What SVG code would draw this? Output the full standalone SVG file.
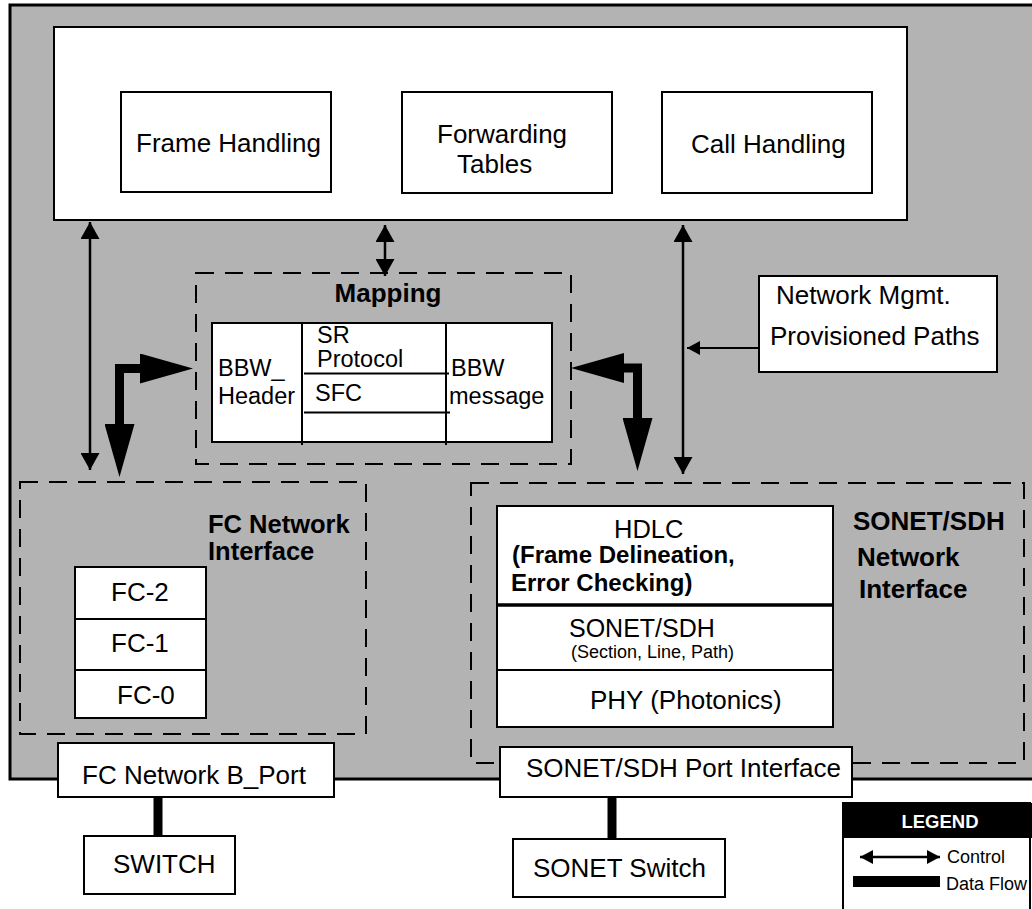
<svg xmlns="http://www.w3.org/2000/svg" width="1032" height="909" viewBox="0 0 1032 909">
<style>
  text { font-family: "Liberation Sans", Arial, sans-serif; fill: #000; }
  .lbl { font-size: 26px; }
  .bold { font-weight: bold; }
  .tbl { font-size: 23.5px; }
  .box { fill: #fff; stroke: #000; stroke-width: 2; }
  .dash { fill: none; stroke: #000; stroke-width: 2; stroke-dasharray: 18 11; }
  .ctrl { fill: none; stroke: #000; stroke-width: 2.5; }
  .flow { fill: none; stroke: #000; stroke-width: 9; stroke-linejoin: miter; }
  .div { stroke: #000; stroke-width: 2; }
</style>
<defs>
  <marker id="ah" viewBox="0 0 17 19" refX="17" refY="9.5" markerWidth="17" markerHeight="19" markerUnits="userSpaceOnUse" orient="auto-start-reverse">
    <path d="M0,0 L17,9.5 L0,19 z" fill="#000"/>
  </marker>
  <marker id="ahs" viewBox="0 0 13 14" refX="13" refY="7" markerWidth="13" markerHeight="14" markerUnits="userSpaceOnUse" orient="auto-start-reverse">
    <path d="M0,0 L13,7 L0,14 z" fill="#000"/>
  </marker>
  <marker id="big" viewBox="0 0 53 30" refX="0" refY="15" markerWidth="53" markerHeight="30" markerUnits="userSpaceOnUse" orient="auto-start-reverse">
    <path d="M0,0 L53,15 L0,30 z" fill="#000"/>
  </marker>
</defs>

<rect id="system" x="10" y="5" width="1040" height="774" fill="#b3b3b3" stroke="#000" stroke-width="3"/>

<g id="control-plane">
  <rect class="box" x="54" y="27" width="853" height="193"/>
</g>
<g id="frame-handling">
  <rect class="box" x="121" y="92" width="210" height="100"/>
  <text class="lbl" x="136" y="152">Frame Handling</text>
</g>
<g id="forwarding-tables">
  <rect class="box" x="402" y="92" width="210" height="101"/>
  <text class="lbl" x="437" y="143">Forwarding</text>
  <text class="lbl" x="457" y="173">Tables</text>
</g>
<g id="call-handling">
  <rect class="box" x="662" y="92" width="210" height="101"/>
  <text class="lbl" x="691" y="153">Call Handling</text>
</g>

<g id="mapping">
  <rect class="dash" x="196" y="273" width="375" height="191"/>
  <text class="lbl bold" x="388" y="302" text-anchor="middle">Mapping</text>
  <rect class="box" x="212" y="323" width="340" height="119"/>
  <line class="div" x1="302" y1="323" x2="302" y2="445"/>
  <line class="div" x1="446" y1="323" x2="446" y2="445"/>
  <line class="div" x1="304" y1="373.5" x2="449" y2="373.5"/>
  <line class="div" x1="304" y1="412.5" x2="450" y2="412.5"/>
  <text class="tbl" x="218" y="376">BBW_</text>
  <text class="tbl" x="218" y="404">Header</text>
  <text class="tbl" x="317" y="343">SR</text>
  <text class="tbl" x="317" y="367">Protocol</text>
  <text class="tbl" x="315" y="401">SFC</text>
  <text class="tbl" x="451" y="376">BBW</text>
  <text class="tbl" x="449" y="404">message</text>
</g>

<g id="network-mgmt">
  <rect class="box" x="759" y="276" width="238" height="96"/>
  <text class="lbl" x="776" y="304">Network Mgmt.</text>
  <text class="lbl" x="770" y="345">Provisioned Paths</text>
</g>

<g id="fc-network-interface">
  <rect class="dash" x="20" y="482" width="346" height="252"/>
  <text class="bold" font-size="25.5" x="208" y="533">FC Network</text>
  <text class="bold" font-size="25.5" x="208" y="560">Interface</text>
  <rect class="box" x="75" y="567" width="131" height="151"/>
  <line class="div" x1="75" y1="619" x2="206" y2="619"/>
  <line class="div" x1="75" y1="670" x2="206" y2="670"/>
  <text class="lbl" x="111" y="601">FC-2</text>
  <text class="lbl" x="111" y="652">FC-1</text>
  <text class="lbl" x="117" y="704">FC-0</text>
</g>

<g id="sonet-network-interface">
  <rect class="dash" x="471" y="483" width="553" height="280"/>
  <text class="lbl bold" x="853" y="530">SONET/SDH</text>
  <text class="lbl bold" x="857" y="566">Network</text>
  <text class="lbl bold" x="859" y="598">Interface</text>
  <rect class="box" x="497" y="506" width="336" height="221"/>
  <line stroke="#000" stroke-width="3.5" x1="497" y1="605" x2="833" y2="605"/>
  <line class="div" x1="497" y1="670" x2="833" y2="670"/>
  <text font-size="25.5" x="614" y="538">HDLC</text>
  <text class="bold" font-size="24" x="512" y="563">(Frame Delineation,</text>
  <text class="bold" font-size="24" x="511" y="591">Error Checking)</text>
  <text font-size="25" x="569" y="637">SONET/SDH</text>
  <text font-size="18" x="571" y="658">(Section, Line, Path)</text>
  <text class="lbl" x="590" y="709">PHY (Photonics)</text>
</g>

<g id="fc-bport">
  <rect class="box" x="58" y="743" width="276" height="54"/>
  <text class="lbl" x="82" y="784">FC Network B_Port</text>
</g>
<g id="sonet-port">
  <rect class="box" x="500" y="747" width="352" height="50"/>
  <text class="lbl" x="526" y="777">SONET/SDH Port Interface</text>
</g>
<g id="switch">
  <rect class="box" x="84" y="836" width="151" height="58"/>
  <text class="lbl" x="113" y="873">SWITCH</text>
</g>
<g id="sonet-switch">
  <rect class="box" x="513" y="839" width="212" height="58"/>
  <text class="lbl" x="533" y="877">SONET Switch</text>
</g>

<g id="connectors">
  <line class="ctrl" x1="90" y1="222" x2="90" y2="470" marker-start="url(#ah)" marker-end="url(#ah)"/>
  <line class="ctrl" x1="385" y1="225" x2="385" y2="276" marker-start="url(#ah)" marker-end="url(#ah)"/>
  <line class="ctrl" x1="683" y1="225" x2="683" y2="474" marker-start="url(#ah)" marker-end="url(#ah)"/>
  <line stroke="#000" stroke-width="2" x1="759" y1="348" x2="687" y2="348" marker-end="url(#ahs)"/>
  <path class="flow" d="M140,368.5 L119.5,368.5 L119.5,424" marker-start="url(#big)" marker-end="url(#big)"/>
  <path class="flow" d="M624,368 L637.5,368 L637.5,418" marker-start="url(#big)" marker-end="url(#big)"/>
  <line stroke="#000" stroke-width="9" x1="158" y1="797" x2="158" y2="836"/>
  <line stroke="#000" stroke-width="9" x1="612" y1="797" x2="612" y2="839"/>
</g>

<g id="legend">
  <rect x="843" y="803" width="187" height="120" fill="#fff" stroke="#000" stroke-width="2"/>
  <rect x="843" y="803" width="189" height="35" fill="#000"/>
  <text class="bold" font-size="18.5" x="940" y="828" text-anchor="middle" style="fill:#fff">LEGEND</text>
  <line stroke="#000" stroke-width="2.5" x1="860" y1="857" x2="940" y2="857" marker-start="url(#ahs)" marker-end="url(#ahs)"/>
  <text font-size="18" x="947" y="863">Control</text>
  <rect x="853" y="876" width="87" height="11" fill="#000"/>
  <text font-size="18" x="946" y="890">Data Flow</text>
</g>
</svg>
